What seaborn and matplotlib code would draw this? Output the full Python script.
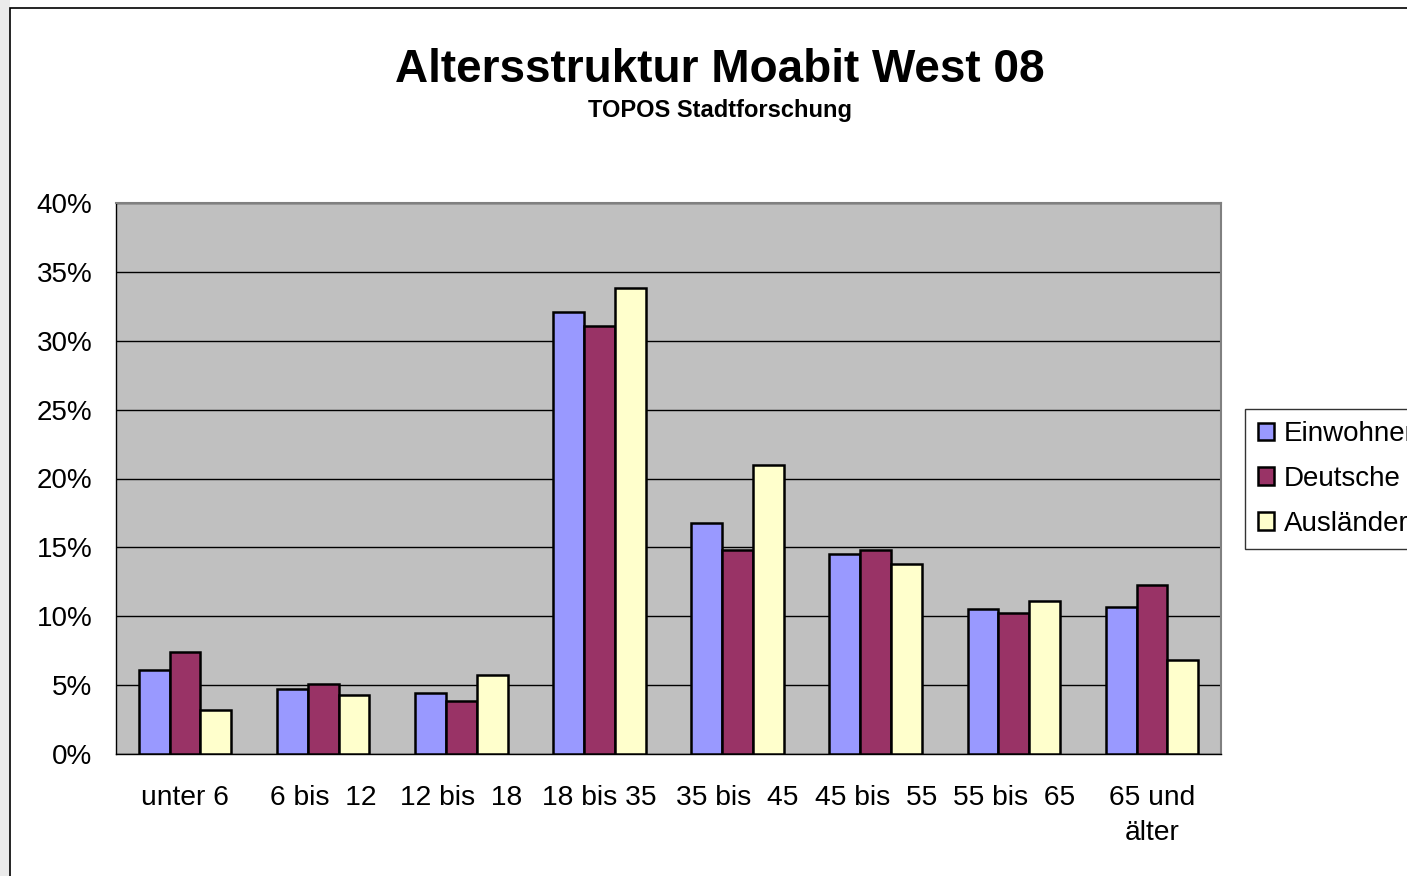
import matplotlib
matplotlib.use('Agg')
import matplotlib.pyplot as plt
import matplotlib.patches as mpatches
import matplotlib.ticker as mticker
import pandas as pd
import seaborn as sns

# Daten (Anteile in %)
kategorien = ['unter 6', '6 bis  12', '12 bis  18', '18 bis 35', '35 bis  45',
              '45 bis  55', '55 bis  65', '65 und\nälter']
einwohner = [6.1, 4.7, 4.4, 32.1, 16.8, 14.5, 10.5, 10.7]
deutsche = [7.4, 5.1, 3.85, 31.1, 14.8, 14.8, 10.2, 12.3]
auslaender = [3.2, 4.3, 5.7, 33.8, 21.0, 13.8, 11.1, 6.8]
gruppen = ['Einwohner', 'Deutsche', 'Ausländer']
farben = ['#9999FF', '#993366', '#FFFFCC']

df = pd.DataFrame({
    'kategorie': kategorien * 3,
    'gruppe': [g for g in gruppen for _ in kategorien],
    'wert': einwohner + deutsche + auslaender,
})

sns.set_style('white')
plt.rcParams['font.family'] = ['Liberation Sans', 'DejaVu Sans']
plt.rcParams['text.color'] = 'black'
plt.rcParams['xtick.color'] = 'black'
plt.rcParams['ytick.color'] = 'black'
plt.rcParams['xtick.labelcolor'] = 'black'
plt.rcParams['ytick.labelcolor'] = 'black'

fig = plt.figure(figsize=(14.07, 8.76), dpi=100)
ax = fig.add_axes([116/1407, 1 - 754/876, (1221-116)/1407, (754-203)/876])
ax.set_facecolor('#C0C0C0')

sns.barplot(data=df, x='kategorie', y='wert', hue='gruppe', order=kategorien,
            hue_order=gruppen, palette=farben, width=0.67, edgecolor='black',
            linewidth=1.8, saturation=1, ax=ax, zorder=3)

ax.set_xlim(-0.5, 7.5)
ax.set_ylim(0, 40)
ax.yaxis.set_major_locator(mticker.MultipleLocator(5))
ax.yaxis.set_major_formatter(mticker.FuncFormatter(lambda v, p: f'{v:.0f}%'))
ax.grid(axis='y', color='black', linewidth=1.0, zorder=1)
ax.set_axisbelow(True)
ax.set_xlabel('')
ax.set_ylabel('')

# Tickmarks zwischen den Kategorien
ax.set_xticks([i + 0.5 for i in range(-1, 8)], minor=True)
ax.tick_params(axis='x', which='major', length=0, labelsize=20.3, pad=22)
ax.tick_params(axis='x', which='minor', length=8, width=1, color='black', direction='out')
ax.tick_params(axis='y', length=7, width=1, color='black', direction='out', labelsize=20, pad=10)
for t in ax.get_xticklabels():
    t.set_linespacing(1.45)
    t.set_color('black')
for t in ax.get_yticklabels():
    t.set_color('black')

for s in ['left', 'bottom']:
    ax.spines[s].set_color('black')
    ax.spines[s].set_linewidth(1.0)
for s in ['top', 'right']:
    ax.spines[s].set_color('#808080')
    ax.spines[s].set_linewidth(1.5)

handles, labels = ax.get_legend_handles_labels()
leg = fig.legend(handles, labels, loc='center left', bbox_to_anchor=(1245/1407, 1 - 479/876),
                 frameon=True, fancybox=False, edgecolor='black', fontsize=20,
                 handlelength=0.6, handleheight=0.6, handletextpad=0.35,
                 labelspacing=0.68, borderpad=0.45, borderaxespad=0)
leg.get_frame().set_linewidth(1.0)
for t in leg.get_texts():
    t.set_color('black')
ax.get_legend().remove()

fig.text(720/1407, 1 - 70/876, 'Altersstruktur Moabit West 08', ha='center', va='center',
         fontsize=33, fontweight='bold', color='black')
fig.text(720/1407, 1 - 111/876, 'TOPOS Stadtforschung', ha='center', va='center',
         fontsize=17, fontweight='bold', color='black')

# Rahmen des Diagrammbereichs und Randstreifen
fig.patches.append(mpatches.Rectangle((0, 0), 10/1407, 1, transform=fig.transFigure,
                                      facecolor='#EBEBEB', edgecolor='none'))
fig.patches.append(mpatches.Rectangle((10/1407, -0.01), 1.0, 1 - 8/876 + 0.01,
                                      transform=fig.transFigure, facecolor='none',
                                      edgecolor='black', linewidth=1.2))

fig.savefig('out.png', dpi=100)
